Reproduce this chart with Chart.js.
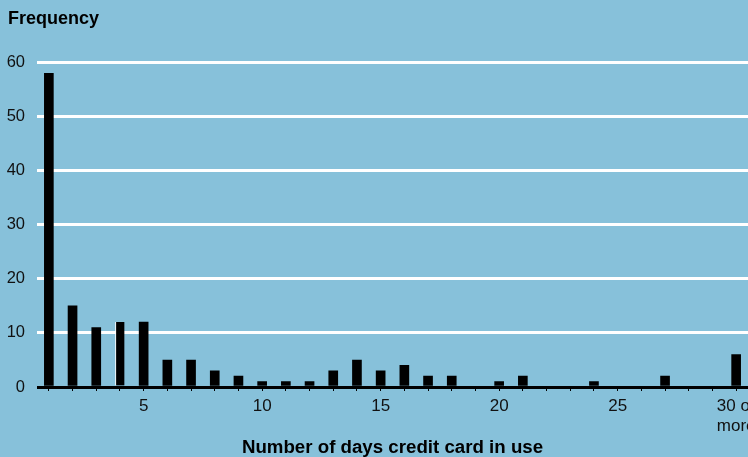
<!DOCTYPE html>
<html>
<head>
<meta charset="utf-8">
<script src="https://cdn.jsdelivr.net/npm/chart.js@4/dist/chart.umd.min.js"></script>
<style>
  html, body { margin: 0; padding: 0; background: #87c1da; overflow: hidden; }
  #wrap { width: 748px; height: 457px; position: relative; }
</style>
</head>
<body>
<div id="wrap"><canvas id="chart"></canvas></div>
<script>
// days the card was used (30 = "30 or more")
const days = [1, 2, 3, 4, 5, 6, 7, 8, 9, 10, 11, 12, 13, 14, 15,
              16, 17, 18, 19, 20, 21, 22, 23, 24, 25, 26, 27, 28, 29, 30];
const frequency = [58, 15, 11, 12, 12, 5, 5, 3, 2, 1, 1, 1, 3, 5, 3,
                   4, 2, 2, 0, 1, 2, 0, 0, 1, 0, 0, 2, 0, 0, 6];
const labelledDays = [5, 10, 15, 20, 25];
const lastDayLabel = ['30 or', 'more'];
const yTicks = [0, 10, 20, 30, 40, 50, 60];

Chart.defaults.font.family = '"Liberation Sans", Arial, sans-serif';
Chart.defaults.color = '#111';

// nudge the "Frequency" heading in from the left edge
const titleShift = {
    id: 'titleShift',
    afterLayout(chart) {
        if (chart.titleBlock) chart.titleBlock.left = 8;
    }
};

const ctx = document.getElementById('chart').getContext('2d');
new Chart(ctx, {
    type: 'bar',
    data: {
        labels: days,
        datasets: [{
            data: frequency,
            backgroundColor: '#000',
            borderColor: (c) => c.dataIndex === 3 ? '#fff' : '#000',
            borderWidth: (c) => c.dataIndex === 3 ? { left: 1 } : 0,
            borderSkipped: false,
            barThickness: 9
        }]
    },
    options: {
        responsive: true,
        maintainAspectRatio: false,
        animation: false,
        layout: { padding: 0 },
        plugins: {
            legend: { display: false },
            tooltip: { enabled: false },
            title: {
                display: true,
                text: 'Frequency',
                align: 'start',
                color: '#000',
                font: { size: 18, weight: 'bold' },
                padding: { top: 8, bottom: 33 }
            }
        },
        scales: {
            x: {
                offset: true,
                afterFit: (s) => { s.paddingRight = 0; s.paddingLeft = 0; s.height = 70; },
                border: { display: false },
                grid: {
                    offset: false,
                    drawOnChartArea: false,
                    drawTicks: true,
                    tickLength: 4,
                    color: '#000',
                    lineWidth: 1
                },
                ticks: {
                    autoSkip: false,
                    maxRotation: 0,
                    padding: 5,
                    font: { size: 17 },
                    callback: function (value, index) {
                        const d = days[index];
                        if (d === 30) return lastDayLabel;
                        return labelledDays.includes(d) ? String(d) : '';
                    }
                },
                title: {
                    display: true,
                    text: 'Number of days credit card in use',
                    color: '#000',
                    font: { size: 18.7, weight: 'bold', lineHeight: 1 },
                    padding: { top: 0, bottom: 0 }
                }
            },
            y: {
                min: 0,
                max: 60,
                afterFit: (s) => { s.width = 37; },
                afterBuildTicks: (s) => { s.ticks = yTicks.map(v => ({ value: v })); },
                border: { display: false },
                grid: {
                    drawTicks: false,
                    color: (c) => c.tick.value === 0 ? '#000' : '#fff',
                    lineWidth: 3
                },
                ticks: {
                    padding: 12,
                    font: { size: 16.5 }
                }
            }
        }
    },
    plugins: [titleShift]
});
</script>
</body>
</html>
